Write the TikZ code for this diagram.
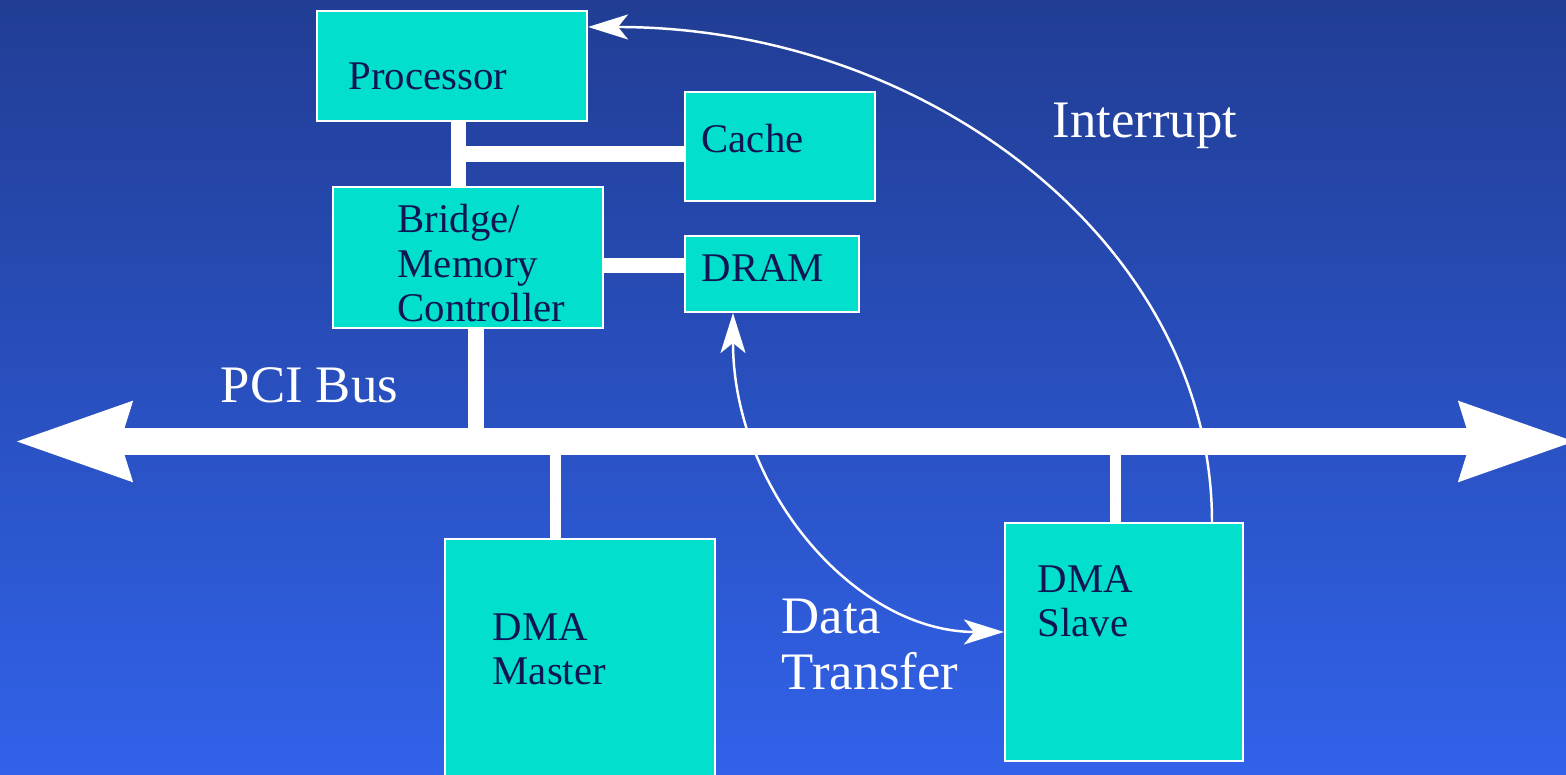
\documentclass[tikz,border=0pt]{standalone}
\usepackage{fontspec}
\setmainfont{Liberation Serif}
\usetikzlibrary{arrows.meta,calc}
\definecolor{BgTop}{RGB}{33,61,148}
\definecolor{BgBottom}{RGB}{49,98,233}
\definecolor{BoxTeal}{RGB}{2,224,205}
\definecolor{InkNavy}{RGB}{16,22,84}

\begin{document}
\begin{tikzpicture}[
  box/.style={rectangle,draw=white,line width=0.6pt,fill=BoxTeal,inner sep=0pt},
  btxt/.style={anchor=base west,align=left,inner sep=0pt,text=InkNavy,font=\fontsize{11.6}{12.7}\selectfont},
  lbl/.style={anchor=base west,align=left,inner sep=0pt,text=white,font=\fontsize{15}{16.2}\selectfont},
  link/.style={white,line width=#1},
  link/.default=0.16cm,
  bus/.style={white,line width=0.27cm,>={Stealth[length=1.15cm,width=0.73cm,inset=0.08cm]},<->},
  arr/.style={white,line width=0.7pt,>={Stealth[length=0.4cm,width=0.25cm,inset=0.1cm]}}
]
  \useasboundingbox (0,0) rectangle (15.66,7.75);
  \shade[top color=BgTop,bottom color=BgBottom] (0,0) rectangle (15.66,7.75);

  \coordinate (busL) at (0.13,3.335);
  \coordinate (busR) at (15.78,3.335);
  \draw[bus] (busL) -- (busR);

  \node[box,minimum width=2.70cm,minimum height=1.10cm] (proc) at (4.52,7.09) {};
  \node[box,minimum width=1.90cm,minimum height=1.09cm] (cache) at (7.80,6.285) {};
  \node[box,minimum width=2.70cm,minimum height=1.41cm] (bridge) at (4.68,5.175) {};
  \node[box,minimum width=1.74cm,minimum height=0.76cm] (dram) at (7.72,5.01) {};
  \node[box,minimum width=2.70cm,minimum height=2.51cm] (master) at (5.80,1.105) {};
  \node[box,minimum width=2.38cm,minimum height=2.38cm] (slave) at (11.24,1.33) {};

  \node[btxt] (procT) at (3.48,6.85) {Processor};
  \node[btxt] (cacheT) at (7.01,6.22) {Cache};
  \node[btxt] (bridgeT) at (3.97,4.53) {Bridge/\\Memory\\Controller};
  \node[btxt] (dramT) at (7.01,4.93) {DRAM};
  \node[btxt] (masterT) at (4.92,0.90) {DMA\\Master};
  \node[btxt] (slaveT) at (10.37,1.38) {DMA\\Slave};

  \node[lbl] (irqL) at (10.52,6.37) {Interrupt};
  \node[lbl] (pciL) at (2.20,3.72) {PCI Bus};
  \node[lbl] (dataL) at (7.81,0.85) {Data\\Transfer};

  \coordinate (pb) at ([xshift=1.425cm]proc.south west);
  \draw[link=0.15cm] (pb) -- (pb |- bridge.north);
  \coordinate (cl) at ([yshift=-0.075cm]cache.west);
  \draw[link] (cl) -- (pb |- cl);
  \coordinate (dl) at ([yshift=0.085cm]dram.west);
  \draw[link=0.15cm] (dl) -- (bridge.east |- dl);
  \coordinate (bb) at ([xshift=0.08cm]bridge.south);
  \draw[link] (bb) -- (bb |- busL);
  \coordinate (mb) at ([xshift=-0.245cm]master.north);
  \draw[link=0.11cm] (mb) -- (mb |- busL);
  \coordinate (sb) at ([xshift=-0.085cm]slave.north);
  \draw[link=0.11cm] (sb) -- (sb |- busL);

  \coordinate (irqS) at ([xshift=0.88cm]slave.north);
  \coordinate (irqE) at ([yshift=0.39cm]proc.east);
  \draw[arr,->] (irqS) .. controls +(0,2.74) and +(3.44,0) .. (irqE);
  \coordinate (dtS) at ([xshift=-0.39cm]dram.south);
  \coordinate (dtE) at ([yshift=0.10cm]slave.west);
  \draw[arr,<->] (dtS) .. controls +(0,-1.76) and +(-1.49,0) .. (dtE);
\end{tikzpicture}
\end{document}
